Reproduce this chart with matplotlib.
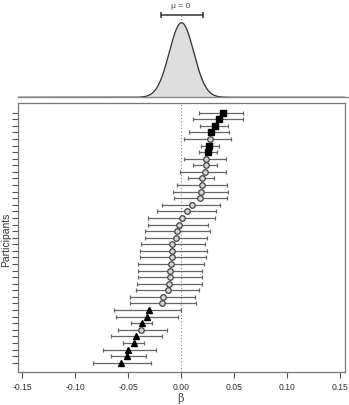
import numpy as np
import matplotlib
matplotlib.use("Agg")
import matplotlib.pyplot as plt
from matplotlib.lines import Line2D

plt.rcParams['font.family'] = ['Liberation Sans', 'DejaVu Sans']

# per-participant estimates (top to bottom) and interval ends
beta = [0.0397, 0.0362, 0.0325, 0.0287, 0.0271, 0.0268, 0.0255, 0.0236, 0.0236, 0.0224,
        0.0199, 0.0199, 0.0189, 0.0183, 0.0101, 0.0054, 0.0012, -0.0019, -0.0035, -0.0044,
        -0.0082, -0.0082, -0.0088, -0.0095, -0.0101, -0.0107, -0.0110, -0.0126, -0.0167, -0.0177,
        -0.0305, -0.0321, -0.0371, -0.0375, -0.0425, -0.0447, -0.0498, -0.0510, -0.0567]
lower = [0.0173, 0.0110, 0.0180, 0.0079, 0.0030, 0.0186, 0.0173, 0.0028, 0.0117, -0.0010,
         0.0063, -0.0035, -0.0076, -0.0070, -0.0180, -0.0230, -0.0310, -0.0315, -0.0343, -0.0337,
         -0.0380, -0.0388, -0.0385, -0.0406, -0.0410, -0.0410, -0.0416, -0.0428, -0.0482, -0.0480,
         -0.0633, -0.0614, -0.0473, -0.0598, -0.0662, -0.0551, -0.0734, -0.0659, -0.0835]
upper = [0.0583, 0.0590, 0.0440, 0.0457, 0.0476, 0.0356, 0.0340, 0.0422, 0.0343, 0.0425,
         0.0312, 0.0438, 0.0447, 0.0435, 0.0366, 0.0334, 0.0321, 0.0252, 0.0271, 0.0249,
         0.0224, 0.0243, 0.0233, 0.0214, 0.0202, 0.0198, 0.0198, 0.0170, 0.0129, 0.0145,
         0.0000, -0.0025, -0.0277, -0.0129, -0.0177, -0.0347, -0.0239, -0.0328, -0.0281]
# s = positive, o = neither, t = negative
kind = ['s', 's', 's', 's', 'o', 's', 's', 'o', 'o', 'o',
        'o', 'o', 'o', 'o', 'o', 'o', 'o', 'o', 'o', 'o',
        'o', 'o', 'o', 'o', 'o', 'o', 'o', 'o', 'o', 'o',
        't', 't', 't', 'o', 't', 't', 't', 't', 't']

# group-level distribution
mu_mean = 0.0005
mu_sd = 0.0115
mu_int = (-0.019, 0.0205)

xlim = (-0.154, 0.155)
W, H = 349, 405

fig = plt.figure(figsize=(W / 100, H / 100), dpi=100)

# main panel
ax = fig.add_axes([18 / W, 1 - 372 / H, (345 - 18) / W, (372 - 103) / H])
n = len(beta)
ypos = np.arange(n)
ax.axvline(0, color='#888888', lw=0.8, ls=(0, (1, 2)), zorder=1)
for i in range(n):
    ax.errorbar(beta[i], ypos[i], xerr=[[beta[i] - lower[i]], [upper[i] - beta[i]]],
                fmt='none', ecolor='#666666', elinewidth=0.9, capsize=1.5, capthick=0.9, zorder=2)
    if kind[i] == 's':
        ax.plot(beta[i], ypos[i], 's', ms=4.8, mfc='black', mec='black', zorder=3)
    elif kind[i] == 't':
        ax.plot(beta[i], ypos[i], '^', ms=5, mfc='black', mec='black', zorder=3)
    else:
        ax.plot(beta[i], ypos[i], 'o', ms=4, mfc='#d4d4d4', mec='#444444', mew=0.9, zorder=3)

ax.set_xlim(xlim)
ax.set_ylim(n - 1 + 1.42, -1.47)
ax.set_yticks(ypos)
ax.set_yticklabels([])
ax.set_xticks([-0.15, -0.10, -0.05, 0.00, 0.05, 0.10, 0.15])
ax.set_xticklabels(['-0.15', '-0.10', '-0.05', '0.00', '0.05', '0.10', '0.15'])
ax.tick_params(axis='both', direction='out', length=4, width=0.8, color='#555555',
               labelsize=6.2, labelcolor='#333333')
ax.tick_params(axis='x', pad=4)
for sp in ax.spines.values():
    sp.set_color('#777777')
    sp.set_linewidth(0.9)
fig.text(181 / W, 1 - 398 / H, 'β', ha='center', va='center', fontsize=8,
         family='DejaVu Serif', color='#444444')
fig.text(6 / W, 1 - 240 / H, 'Participants', rotation=90, ha='center', va='center',
         fontsize=7.5, color='#333333')

# top density panel
top = fig.add_axes([18 / W, 1 - 97.3 / H, (345 - 18) / W, 97.3 / H])
xs = np.linspace(xlim[0], xlim[1], 800)
dens = np.exp(-0.5 * ((xs - mu_mean) / mu_sd) ** 2) / (mu_sd * np.sqrt(2 * np.pi))
peak = dens.max()
top.set_xlim(xlim)
top.set_ylim(0, peak * 97.3 / 74.6)
top.fill_between(xs, 0, dens, color='#dddddd', zorder=2)
top.plot(xs, dens, color='#333333', lw=0.9, zorder=3)
yb = peak * (97.3 - 15) / 74.6
top.plot([0, 0], [peak, yb], color='#888888', lw=0.8, ls=(0, (1, 2)), zorder=1)
top.errorbar(np.mean(mu_int), yb, xerr=(mu_int[1] - mu_int[0]) / 2, fmt='none',
             ecolor='#333333', elinewidth=1.1, capsize=2, capthick=1.1)
top.text(0, peak * (97.3 - 7) / 74.6, 'μ = 0', ha='center', va='center',
         fontsize=6, color='#444444')
top.axis('off')
fig.add_artist(Line2D([18 / W, 1], [1 - 97.3 / H, 1 - 97.3 / H], color='#888888', lw=1.0))

fig.savefig('out.png', dpi=100)
